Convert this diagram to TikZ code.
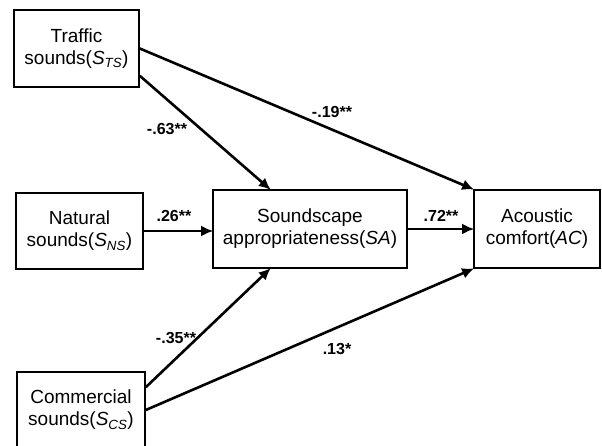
\documentclass[tikz,border=0pt]{standalone}
\usepackage{fontspec}
\setmainfont{Liberation Sans}
\usetikzlibrary{arrows.meta}
\tikzset{box/.style = {draw, line width = 1.6pt, inner sep = 0, align = center, font = \fontsize{19}{22}\selectfont}}
\tikzset{arr/.style = {line width = 2.6pt, -{Latex[length = 12pt, width = 11pt]}, shorten >= -1pt}}
\tikzset{coef/.style = {font = \fontsize{16}{18}\selectfont\bfseries}}
\newcommand{\var}[2]{\textit{#1}\textsubscript{\textit{#2}}}

\begin{document}
\begin{tikzpicture}[x = 1pt, y = -1pt]

       \useasboundingbox (0, 0) rectangle (602, 446);

       \node [box, minimum width = 125pt, minimum height = 77pt] (ts) at (76.5, 48.5) {Traffic\\sounds(\var{S}{TS})};
       \node [box, minimum width = 127pt, minimum height = 76pt] (ns) at (79.5, 231) {Natural\\sounds(\var{S}{NS})};
       \node [box, minimum width = 128pt, minimum height = 76pt] (cs) at (81, 410) {Commercial\\sounds(\var{S}{CS})};
       \node [box, minimum width = 194pt, minimum height = 78pt] (sa) at (310, 229) {Soundscape\\appropriateness(\textit{SA})};
       \node [box, minimum width = 126pt, minimum height = 78pt] (ac) at (537, 229) {Acoustic\\comfort(\textit{AC})};

       \draw [arr] (ts.east) -- (ac.north west);
       \draw [arr] ([yshift = 12pt]ts.south east) -- ([xshift = -40pt]sa.north);
       \draw [arr] (ns.east) -- (ns.east -| sa.west);
       \draw [arr] (sa.east) -- (ac.west);
       \draw [arr] ([yshift = -16pt]cs.north east) -- ([xshift = -40pt]sa.south);
       \draw [arr] (cs.east) -- (ac.south west);

       \node [coef] (b1) at (167, 129) {-.63**};
       \node [coef] (b2) at (332, 112) {-.19**};
       \node [coef] (b3) at (174, 216) {.26**};
       \node [coef] (b4) at (441, 216) {.72**};
       \node [coef] (b5) at (176, 338) {-.35**};
       \node [coef] (b6) at (337, 349) {.13*};
    \end{tikzpicture}
\end{document}
